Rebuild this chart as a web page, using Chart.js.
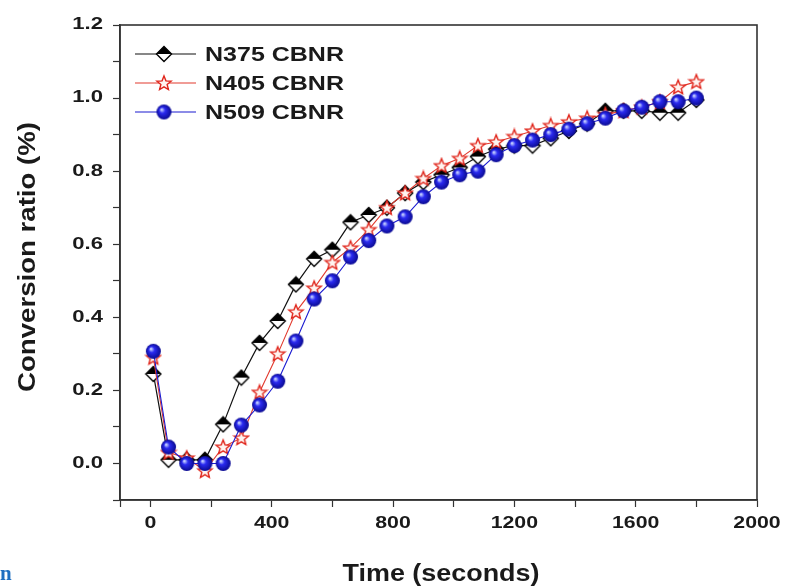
<!DOCTYPE html>
<html>
<head>
<meta charset="utf-8">
<script src="https://cdn.jsdelivr.net/npm/chart.js@4/dist/chart.umd.min.js"></script>
<style>
  html, body { margin: 0; padding: 0; background: #fff; }
  #wrap { width: 786px; height: 587px; }
</style>
</head>
<body>
<div id="wrap"><canvas id="conv-chart" width="786" height="587"></canvas></div>
<script>
// time axis (seconds)
const times = [10, 60, 120, 180, 240, 300, 360, 420, 480, 540, 600, 660, 720, 780, 840, 900,
  960, 1020, 1080, 1140, 1200, 1260, 1320, 1380, 1440, 1500, 1560, 1620, 1680, 1740, 1800]

// conversion ratio for each sample
const n375 = [0.245, 0.01, 0.01, 0.01, 0.107, 0.235, 0.33, 0.39, 0.49, 0.56, 0.585, 0.66, 0.68, 0.70, 0.74, 0.77,
  0.79, 0.81, 0.84, 0.86, 0.87, 0.87, 0.89, 0.91, 0.93, 0.965, 0.965, 0.965, 0.96, 0.96, 0.995]
const n405 = [0.29, 0.03, 0.015, -0.02, 0.045, 0.07, 0.195, 0.30, 0.415, 0.48, 0.55, 0.59, 0.64, 0.70, 0.74, 0.78,
  0.815, 0.835, 0.87, 0.88, 0.895, 0.91, 0.925, 0.935, 0.945, 0.955, 0.965, 0.975, 0.99, 1.03, 1.045]
const n509 = [0.307, 0.045, 0.0, 0.0, 0.0, 0.105, 0.16, 0.225, 0.335, 0.45, 0.50, 0.565, 0.61, 0.65, 0.675, 0.73,
  0.77, 0.79, 0.80, 0.845, 0.87, 0.885, 0.90, 0.915, 0.93, 0.945, 0.965, 0.975, 0.99, 0.99, 1.0]

const seriesNames = ["N375 CBNR", "N405 CBNR", "N509 CBNR"]
const lineColors = ["#111111", "#e23a2e", "#1a1ad0"]
const xLabels = [0, 400, 800, 1200, 1600, 2000]
const yLabels = [0.0, 0.2, 0.4, 0.6, 0.8, 1.0, 1.2]
const xTitle = "Time (seconds)"
const yTitle = "Conversion ratio (%)"

const fontName = "'Liberation Sans', Arial, sans-serif"

// marker images
function makeCanvas(size) {
  let c = document.createElement("canvas")
  c.width = size
  c.height = size
  return c
}

function diamondMarker() {
  let c = makeCanvas(18)
  let ctx = c.getContext("2d")
  let m = 9, r = 7.5
  ctx.beginPath()
  ctx.moveTo(m, m - r); ctx.lineTo(m + r, m); ctx.lineTo(m - r, m); ctx.closePath()
  ctx.fillStyle = "#000"
  ctx.fill()
  ctx.beginPath()
  ctx.moveTo(m - r, m); ctx.lineTo(m + r, m); ctx.lineTo(m, m + r); ctx.closePath()
  ctx.fillStyle = "#fff"
  ctx.fill()
  ctx.beginPath()
  ctx.moveTo(m, m - r); ctx.lineTo(m + r, m); ctx.lineTo(m, m + r); ctx.lineTo(m - r, m); ctx.closePath()
  ctx.lineWidth = 1.4
  ctx.strokeStyle = "#000"
  ctx.stroke()
  return c
}

function starMarker() {
  let c = makeCanvas(18)
  let ctx = c.getContext("2d")
  let m = 9, ro = 7.5, ri = 3.3
  ctx.beginPath()
  for (let i = 0; i < 10; i++) {
    let r = i % 2 == 0 ? ro : ri
    let a = -Math.PI / 2 + i * Math.PI / 5
    let px = m + r * Math.cos(a), py = m + 0.5 + r * Math.sin(a)
    if (i == 0) ctx.moveTo(px, py); else ctx.lineTo(px, py)
  }
  ctx.closePath()
  ctx.fillStyle = "#fff4f0"
  ctx.fill()
  ctx.lineWidth = 1.4
  ctx.strokeStyle = "#e0241a"
  ctx.stroke()
  return c
}

function ballMarker() {
  let c = makeCanvas(17)
  let ctx = c.getContext("2d")
  let m = 8.5, r = 7.5
  let g = ctx.createRadialGradient(m - 2.5, m - 2.5, 0.5, m, m, r)
  g.addColorStop(0, "#c8d4ff")
  g.addColorStop(0.35, "#2a2af0")
  g.addColorStop(1, "#0a0a90")
  ctx.beginPath()
  ctx.arc(m, m, r, 0, Math.PI * 2)
  ctx.fillStyle = g
  ctx.fill()
  return c
}

const markers = [diamondMarker(), starMarker(), ballMarker()]

function toPoints(vals) {
  let pts = []
  for (let i = 0; i < times.length; i++) {
    pts.push({ x: times[i], y: vals[i] })
  }
  return pts
}

// text drawn wider than the font, like the original figure
function wideText(ctx, text, x, y, size, sx, align) {
  ctx.save()
  ctx.font = "bold " + size + "px " + fontName
  ctx.textBaseline = "middle"
  let w = ctx.measureText(text).width * sx
  let left = x
  if (align == "center") left = x - w / 2
  if (align == "right") left = x - w
  ctx.translate(left, y)
  ctx.scale(sx, 1)
  ctx.textAlign = "left"
  ctx.fillText(text, 0, 0)
  ctx.restore()
}

function fitText(ctx, text, x, y, size, width) {
  ctx.save()
  ctx.font = "bold " + size + "px " + fontName
  let sx = width / ctx.measureText(text).width
  ctx.restore()
  wideText(ctx, text, x, y, size, sx, "center")
}

// frame, labels, legend and stray label
const decorPlugin = {
  id: "decor",
  afterDraw(chart) {
    let ctx = chart.ctx
    let a = chart.chartArea
    let xs = chart.scales.x
    let ys = chart.scales.y
    ctx.save()
    ctx.strokeStyle = "#333"
    ctx.lineWidth = 1.6
    ctx.strokeRect(a.left, a.top, a.right - a.left, a.bottom - a.top)

    ctx.fillStyle = "#1a1a1a"
    for (let v of xLabels) {
      wideText(ctx, String(v), xs.getPixelForValue(v), a.bottom + 24, 16, 1.33, "center")
    }
    for (let v of yLabels) {
      wideText(ctx, v.toFixed(1), a.left - 17, ys.getPixelForValue(v), 16, 1.38, "right")
    }

    fitText(ctx, xTitle, 441, 575, 23, 197)
    ctx.save()
    ctx.translate(29, 257)
    ctx.rotate(-Math.PI / 2)
    fitText(ctx, yTitle, 0, 0, 23, 270)
    ctx.restore()

    // legend
    for (let i = 0; i < 3; i++) {
      let y = 54 + i * 29
      ctx.strokeStyle = lineColors[i]
      ctx.lineWidth = 1.2
      ctx.beginPath()
      ctx.moveTo(135, y)
      ctx.lineTo(196, y)
      ctx.stroke()
      let mk = markers[i]
      ctx.drawImage(mk, 164 - mk.width / 2, y - mk.height / 2)
      ctx.fillStyle = "#1a1a1a"
      ctx.save()
      ctx.font = "bold 21px " + fontName
      let sx = 139 / ctx.measureText(seriesNames[i]).width
      ctx.restore()
      wideText(ctx, seriesNames[i], 205, y + 1, 21, sx, "left")
    }

    ctx.fillStyle = "#1f6fc0"
    ctx.font = "bold 21px 'Liberation Serif', serif"
    ctx.textBaseline = "alphabetic"
    ctx.fillText("n", 0, 580)
    ctx.restore()
  }
}

new Chart(document.getElementById("conv-chart"), {
  type: "line",
  data: {
    datasets: [
      { label: seriesNames[0], data: toPoints(n375), borderColor: lineColors[0], borderWidth: 1.2,
        pointStyle: markers[0], order: 3 },
      { label: seriesNames[1], data: toPoints(n405), borderColor: lineColors[1], borderWidth: 1.1,
        pointStyle: markers[1], order: 2 },
      { label: seriesNames[2], data: toPoints(n509), borderColor: lineColors[2], borderWidth: 1.1,
        pointStyle: markers[2], order: 1 }
    ]
  },
  options: {
    responsive: false,
    animation: false,
    events: [],
    layout: { padding: { top: 25, right: 29, left: 0, bottom: 0 } },
    plugins: { legend: { display: false }, tooltip: { enabled: false } },
    scales: {
      x: {
        type: "linear",
        min: -100,
        max: 2000,
        afterFit: function(scale) { scale.height = 87 },
        afterBuildTicks: function(scale) {
          let t = [{ value: -100 }]
          for (let v = 0; v <= 2000; v += 200) t.push({ value: v })
          scale.ticks = t
        },
        grid: { drawOnChartArea: false, tickLength: 7, color: "#333", tickWidth: 1.2 },
        border: { color: "#333", width: 1.6 },
        ticks: { display: false, autoSkip: false }
      },
      y: {
        min: -0.1,
        max: 1.2,
        afterFit: function(scale) { scale.width = 120 },
        grid: { drawOnChartArea: false, tickLength: 7, color: "#333", tickWidth: 1.2 },
        border: { color: "#333", width: 1.6 },
        ticks: { display: false, stepSize: 0.1, autoSkip: false }
      }
    }
  },
  plugins: [decorPlugin]
});
</script>
</body>
</html>
